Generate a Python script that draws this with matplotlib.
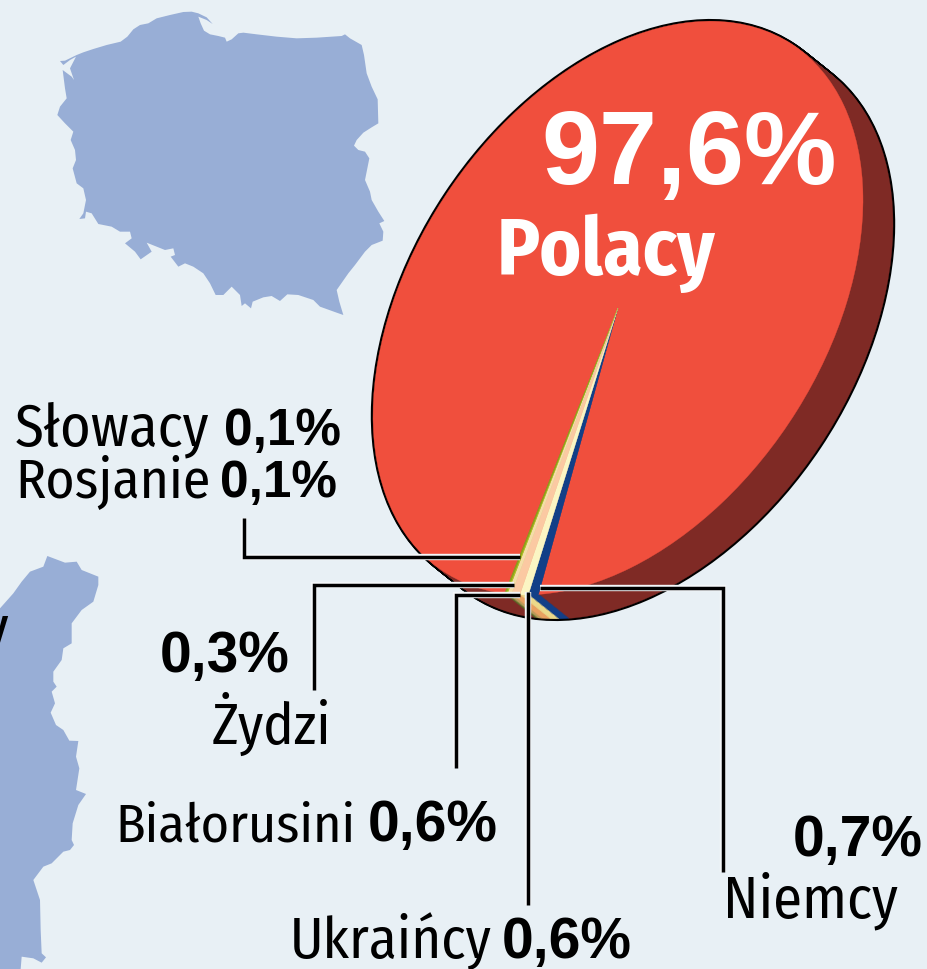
import matplotlib
matplotlib.use("Agg")
import matplotlib.pyplot as plt
import matplotlib.patheffects as pe
from matplotlib import font_manager as fm
from matplotlib.patches import Polygon, Circle
from matplotlib.transforms import Affine2D

# ---- data ----
groups = ["Polacy", "Niemcy", "Ukraińcy", "Białorusini", "Żydzi", "Rosjanie", "Słowacy"]
shares = [97.6, 0.7, 0.6, 0.6, 0.3, 0.1, 0.1]
top_colors = ["#F04F3D", "#123F87", "#FBF5C3", "#FBC9A2", "#F5DDA8", "#AEC41E", "#8FA51C"]
side_colors = ["#7F2A25", "#123F87", "#EBD98A", "#E8A060", "#B99A5A", "#6E7A30", "#5A6628"]

BG = "#E8F0F5"
MAP = "#98AED6"
installed = {f.name for f in fm.fontManager.ttflist}
SANS = "Liberation Sans"
NARROW = next((n for n in ["Fira Sans Condensed", "Pragati Narrow", "Roboto Condensed", "Archivo Narrow"]
               if n in installed), SANS)

# Map outlines (crop pixels)
poland_zoom = [(30,183),(45,182),(80,165),(100,157),(130,147),(170,135),(212,125),(232,110),(250,88),(270,75),(295,70),
 (320,55),(360,45),(400,36),(425,35),(445,40),(470,52),(488,72),(470,60),(445,50),(452,70),(462,92),(480,103),(505,108),
 (525,113),(530,125),(545,118),(565,100),(580,98),(620,103),(680,110),(740,115),(800,113),(875,108),(885,103),(900,115),
 (935,135),(942,165),(950,220),(965,260),(983,298),(985,370),(965,382),(940,398),(920,420),(912,437),(925,450),(945,455),
 (958,475),(950,515),(945,540),(960,575),(965,600),(985,635),(1003,663),(988,670),(1000,695),(998,722),(965,735),(945,755),
 (915,795),(895,820),(860,870),(868,905),(880,945),(860,938),(810,920),(790,900),(745,885),(712,883),(690,903),(665,888),
 (640,892),(608,905),(603,925),(585,910),(575,918),(570,885),(545,860),(520,885),(497,885),(480,850),(460,820),(430,800),
 (405,790),(385,800),(362,770),(375,765),(370,745),(345,750),(320,740),(290,728),(305,755),(272,778),(255,755),(225,730),
 (245,715),(240,695),(210,695),(185,680),(145,672),(125,640),(108,635),(105,655),(88,657),(100,640),(108,600),(100,565),
 (80,550),(68,505),(78,480),(75,450),(62,420),(70,395),(45,370),(22,345),(30,320),(50,295),(45,265),(38,210),(65,230),
 (72,240),(60,205),(78,170),(60,180),(40,195)]
poland_outline = [(50 + x / 3, y / 3) for x, y in poland_zoom]
coast_zoom = [(0,205),(40,160),(65,125),(90,95),(130,80),(142,48),(195,68),(230,65),(245,90),(295,110),(295,135),(280,185),
 (245,210),(215,250),(215,310),(190,325),(185,360),(160,395),(160,425),(170,440),(155,455),(165,490),(152,518),(168,555),
 (190,570),(208,602),(235,603),(228,650),(238,685),(228,750),(258,762),(235,795),(218,850),(215,900),(222,915),(210,930),
 (190,935),(155,970),(130,980),(100,1020),(120,1080),(122,1170),(125,1240),(138,1252),(125,1268),(100,1255),(65,1250),
 (62,1287),(0,1287)]
coast_outline = [(x / 3, 540 + y / 3) for x, y in coast_zoom]

# ---- figure in pixel coordinates ----
fig = plt.figure(figsize=(9.28, 9.69), dpi=100, facecolor=BG)
ax = fig.add_axes([0, 0, 1, 1])

ax.add_patch(Polygon(poland_outline, closed=True, fc=MAP, ec="none", zorder=1))
ax.add_patch(Polygon(coast_outline, closed=True, fc=MAP, ec="none", zorder=1))

# ---- tilted 3-D pie: the library's pie, sheared on to an ellipse ----
CX, CY, A, B, TILT = 618, 308, 316, 206, -56.4
DEPTH_X, DEPTH_Y, LAYERS = 30, 24, 30
SMALL_START = 153.4
polacy_sweep = shares[0] / sum(shares) * 360
start = SMALL_START - polacy_sweep


def face_transform(dx=0.0, dy=0.0):
    return Affine2D().scale(A, B).rotate_deg(TILT).translate(CX + dx, CY + dy) + ax.transData


def draw_face(colors, dx, dy, z):
    wedges, _ = ax.pie(shares, colors=colors, startangle=start, counterclock=True, radius=1, center=(0, 0),
                       wedgeprops=dict(linewidth=0.25, zorder=z))
    for w, c in zip(wedges, colors):
        w.set_edgecolor(c)
        w.set_transform(face_transform(dx, dy))
        w.set_zorder(z)


for i in range(LAYERS + 1):
    f = i / LAYERS
    ax.add_patch(Circle((0, 0), 1, fc="black", ec="black", lw=3.2, zorder=2,
                        transform=face_transform(DEPTH_X * f, DEPTH_Y * f)))
for i in range(LAYERS, 0, -1):
    f = i / LAYERS
    draw_face(side_colors, DEPTH_X * f, DEPTH_Y * f, 3 + (LAYERS - i) * 0.01)
draw_face(top_colors, 0, 0, 4)

ax.set_xlim(0, 928)
ax.set_ylim(969, 0)
ax.set_aspect("auto")
ax.axis("off")

# ---- leader lines ----
halo = [pe.withStroke(linewidth=4.6, foreground="#F4F7F9")]
leaders = [
    [(244, 518), (244, 557), (520, 557)],
    [(314, 690), (314, 585), (514, 585)],
    [(456, 768), (456, 595), (520, 595)],
    [(528, 905), (528, 592)],
    [(723, 872), (723, 588), (540, 588)],
]
for path in leaders:
    xs, ys = zip(*path)
    ax.plot(xs, ys, color="black", lw=2.5, solid_joinstyle="miter", solid_capstyle="butt",
            path_effects=halo, zorder=6)


# ---- texts ----
def label(x, y, s, size, family=NARROW, weight="normal", color="black"):
    ax.text(x, y, s, fontsize=size, color=color, ha="left", va="baseline", zorder=7, family=family, fontweight=weight)


label(541, 184, "97,6%", 75, SANS, "bold", "white")
label(497, 275, "Polacy", 57, NARROW, "bold", "white")

label(15, 445, "Słowacy", 42)
label(224, 445, "0,1%", 37, SANS, "bold")
label(15, 497, "Rosjanie", 40)
label(220, 497, "0,1%", 37, SANS, "bold")
label(160, 672, "0,3%", 41, SANS, "bold")
label(212, 744, "Żydzi", 41)
label(115, 841, "Białorusini", 39)
label(368, 841, "0,6%", 41, SANS, "bold")
label(793, 856, "0,7%", 41, SANS, "bold")
label(723, 917, "Niemcy", 42)
label(290, 958, "Ukraińcy", 41)
label(502, 958, "0,6%", 41, SANS, "bold")
label(-19, 646, "y", 43)

fig.savefig("out.png", dpi=100, facecolor=BG)
